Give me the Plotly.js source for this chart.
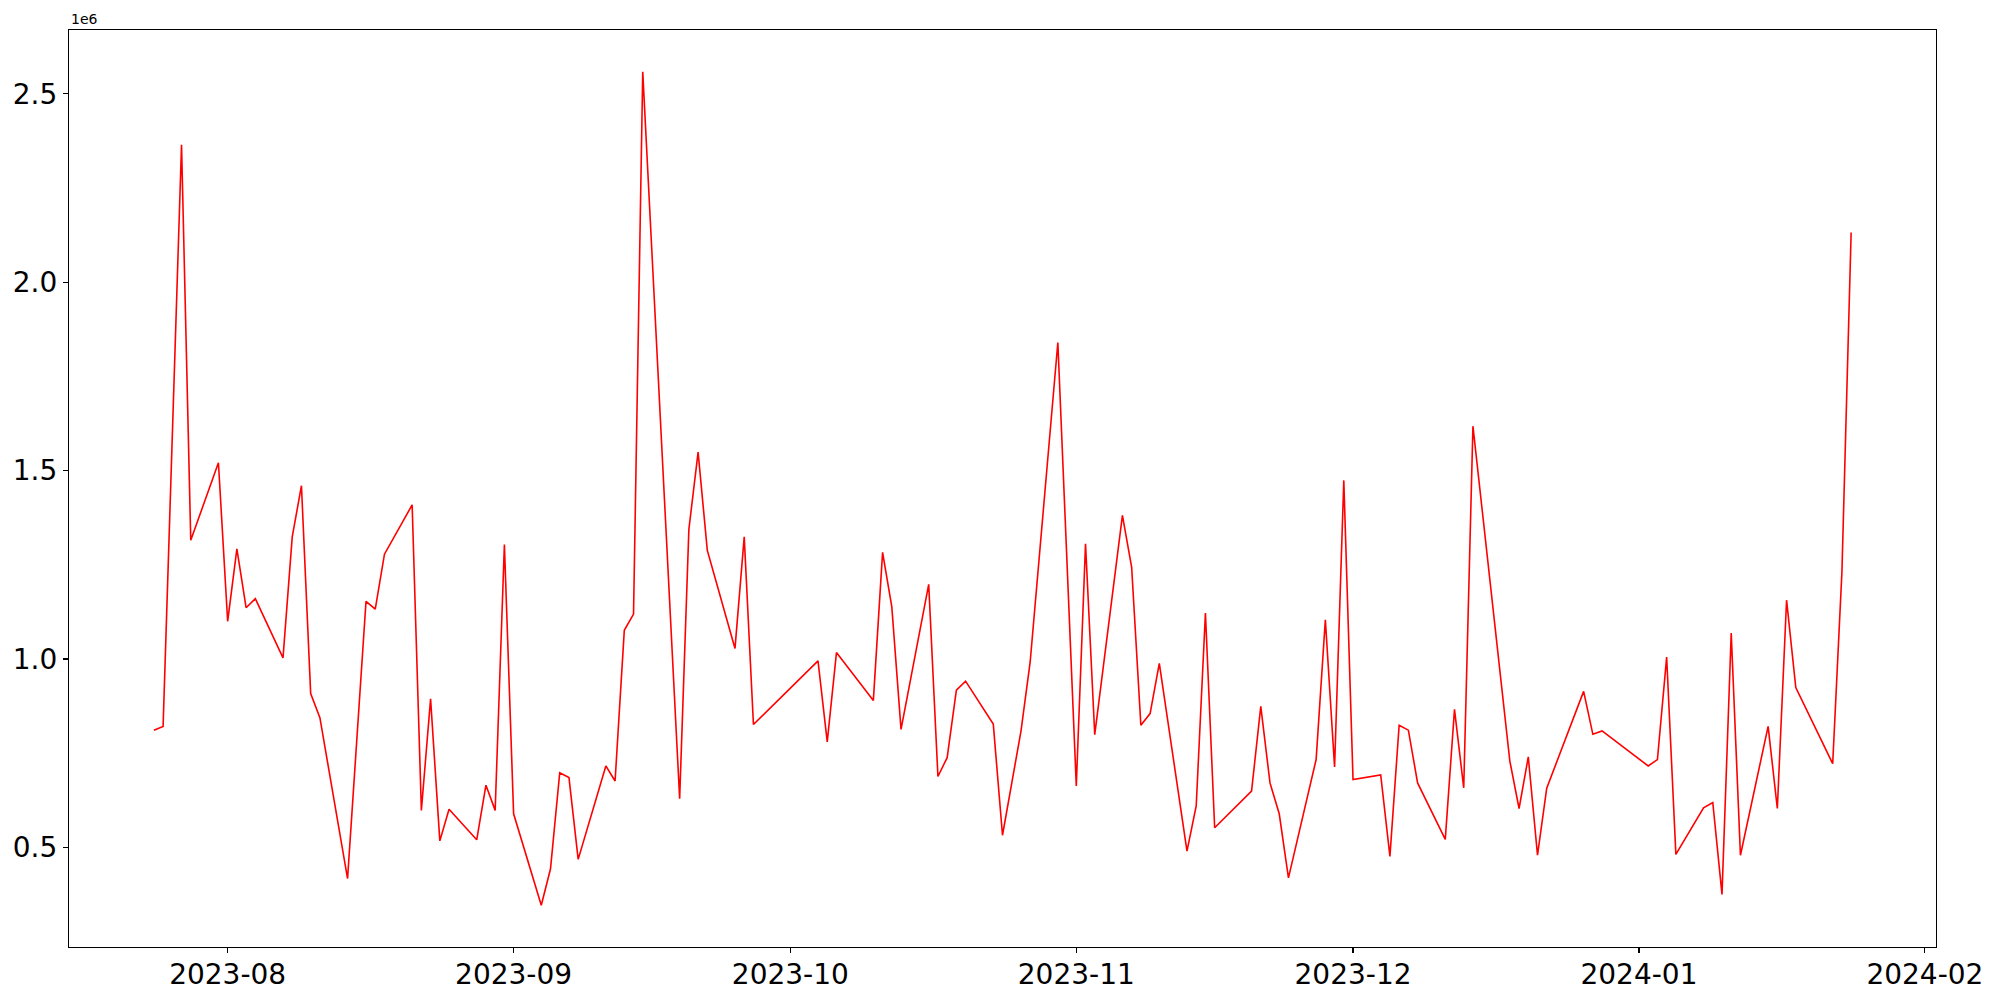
<!DOCTYPE html>
<html>
<head>
<meta charset="utf-8">
<script src="https://cdn.plot.ly/plotly-3.0.1.min.js"></script>
<style>html,body{margin:0;padding:0;background:#fff;}#chart{width:2000px;height:1000px;}</style>
</head>
<body>
<div id="chart"></div>
<script>
const dates = [
 "2023-07-24","2023-07-25","2023-07-27","2023-07-28","2023-07-31",
 "2023-08-01","2023-08-02","2023-08-03","2023-08-04","2023-08-07","2023-08-08","2023-08-09","2023-08-10","2023-08-11",
 "2023-08-14","2023-08-16","2023-08-17","2023-08-18","2023-08-21","2023-08-22","2023-08-23","2023-08-24","2023-08-25",
 "2023-08-28","2023-08-29","2023-08-30","2023-08-31","2023-09-01",
 "2023-09-04","2023-09-05","2023-09-06","2023-09-07","2023-09-08","2023-09-11","2023-09-12","2023-09-13","2023-09-14","2023-09-15",
 "2023-09-19","2023-09-20","2023-09-21","2023-09-22","2023-09-25","2023-09-26","2023-09-27",
 "2023-10-04","2023-10-05","2023-10-06","2023-10-10","2023-10-11","2023-10-12","2023-10-13",
 "2023-10-16","2023-10-17","2023-10-18","2023-10-19","2023-10-20","2023-10-23","2023-10-24","2023-10-26","2023-10-27",
 "2023-10-30","2023-11-01","2023-11-02","2023-11-03","2023-11-06","2023-11-07","2023-11-08","2023-11-09","2023-11-10",
 "2023-11-13","2023-11-14","2023-11-15","2023-11-16","2023-11-20","2023-11-21","2023-11-22","2023-11-23","2023-11-24",
 "2023-11-27","2023-11-28","2023-11-29","2023-11-30","2023-12-01","2023-12-04","2023-12-05","2023-12-06","2023-12-07","2023-12-08",
 "2023-12-11","2023-12-12","2023-12-13","2023-12-14","2023-12-18","2023-12-19","2023-12-20","2023-12-21","2023-12-22",
 "2023-12-26","2023-12-27","2023-12-28","2024-01-02","2024-01-03","2024-01-04","2024-01-05",
 "2024-01-08","2024-01-09","2024-01-10","2024-01-11","2024-01-12","2024-01-15","2024-01-16","2024-01-17","2024-01-18",
 "2024-01-22","2024-01-23","2024-01-24"
];
const values = [
 811000,821000,2365000,1315000,1521000,
 1100000,1292000,1136000,1160000,1003000,1324000,1460000,908000,844000,
 417000,1153000,1132000,1278000,1409000,598000,894000,517000,601000,
 520000,665000,598000,1304000,589000,
 346000,443000,698000,685000,468000,716000,676000,1076000,1119000,2559000,
 629000,1344000,1549000,1288000,1028000,1324000,826000,
 995000,780000,1017000,890000,1283000,1138000,813000,
 1198000,688000,738000,917000,941000,827000,532000,808000,992000,
 1840000,663000,1306000,799000,1381000,1244000,824000,855000,988000,
 490000,610000,1122000,552000,649000,874000,671000,589000,419000,
 733000,1104000,713000,1474000,680000,692000,476000,824000,811000,671000,
 521000,866000,658000,1618000,729000,603000,740000,479000,657000,
 914000,800000,809000,716000,733000,1005000,481000,
 605000,619000,375000,1069000,479000,821000,603000,1156000,924000,
 722000,1230000,2132000
];
const xTickVals = ["2023-08-01","2023-09-01","2023-10-01","2023-11-01","2023-12-01","2024-01-01","2024-02-01"];
const xTickText = ["2023-08","2023-09","2023-10","2023-11","2023-12","2024-01","2024-02"];
const yTickVals = [500000,1000000,1500000,2000000,2500000];
const yTickText = ["0.5","1.0","1.5","2.0","2.5"];

// matplotlib-style 5% autoscale margins
const t0 = Date.parse(dates[0] + "T00:00:00Z"), t1 = Date.parse(dates[dates.length-1] + "T00:00:00Z");
const dt = (t1 - t0) * 0.05;
const fmt = t => new Date(t).toISOString().replace("T"," ").slice(0,19);
const vmin = Math.min(...values), vmax = Math.max(...values);
const dv = (vmax - vmin) * 0.05;

const font = {family: "DejaVu Sans", color: "#000"};
const axisCommon = {
  showgrid: false, zeroline: false, showline: true, mirror: true,
  linecolor: "#000", linewidth: 1.1, ticks: "outside", ticklen: 5, tickwidth: 1.1, tickcolor: "#000",
  tickfont: Object.assign({size: 28}, font)
};

const trace = {x: dates, y: values, type: "scatter", mode: "lines", line: {color: "red", width: 1.6}};
const layout = {
  width: 2000, height: 1000,
  margin: {l: 69, r: 64, t: 30, b: 53},
  paper_bgcolor: "#fff", plot_bgcolor: "#fff",
  showlegend: false,
  xaxis: Object.assign({}, axisCommon, {type: "date", range: [fmt(t0 - dt), fmt(t1 + dt)],
    tickmode: "array", tickvals: xTickVals, ticktext: xTickText, ticklabelstandoff: -3}),
  yaxis: Object.assign({}, axisCommon, {range: [vmin - dv, vmax + dv],
    tickmode: "array", tickvals: yTickVals, ticktext: yTickText}),
  annotations: [{text: "1e6", xref: "paper", yref: "paper", x: 0, y: 1, xanchor: "left", yanchor: "bottom",
    showarrow: false, font: Object.assign({size: 14}, font), yshift: 1}]
};
Plotly.newPlot("chart", [trace], layout, {staticPlot: true, displayModeBar: false});
</script>
</body>
</html>
